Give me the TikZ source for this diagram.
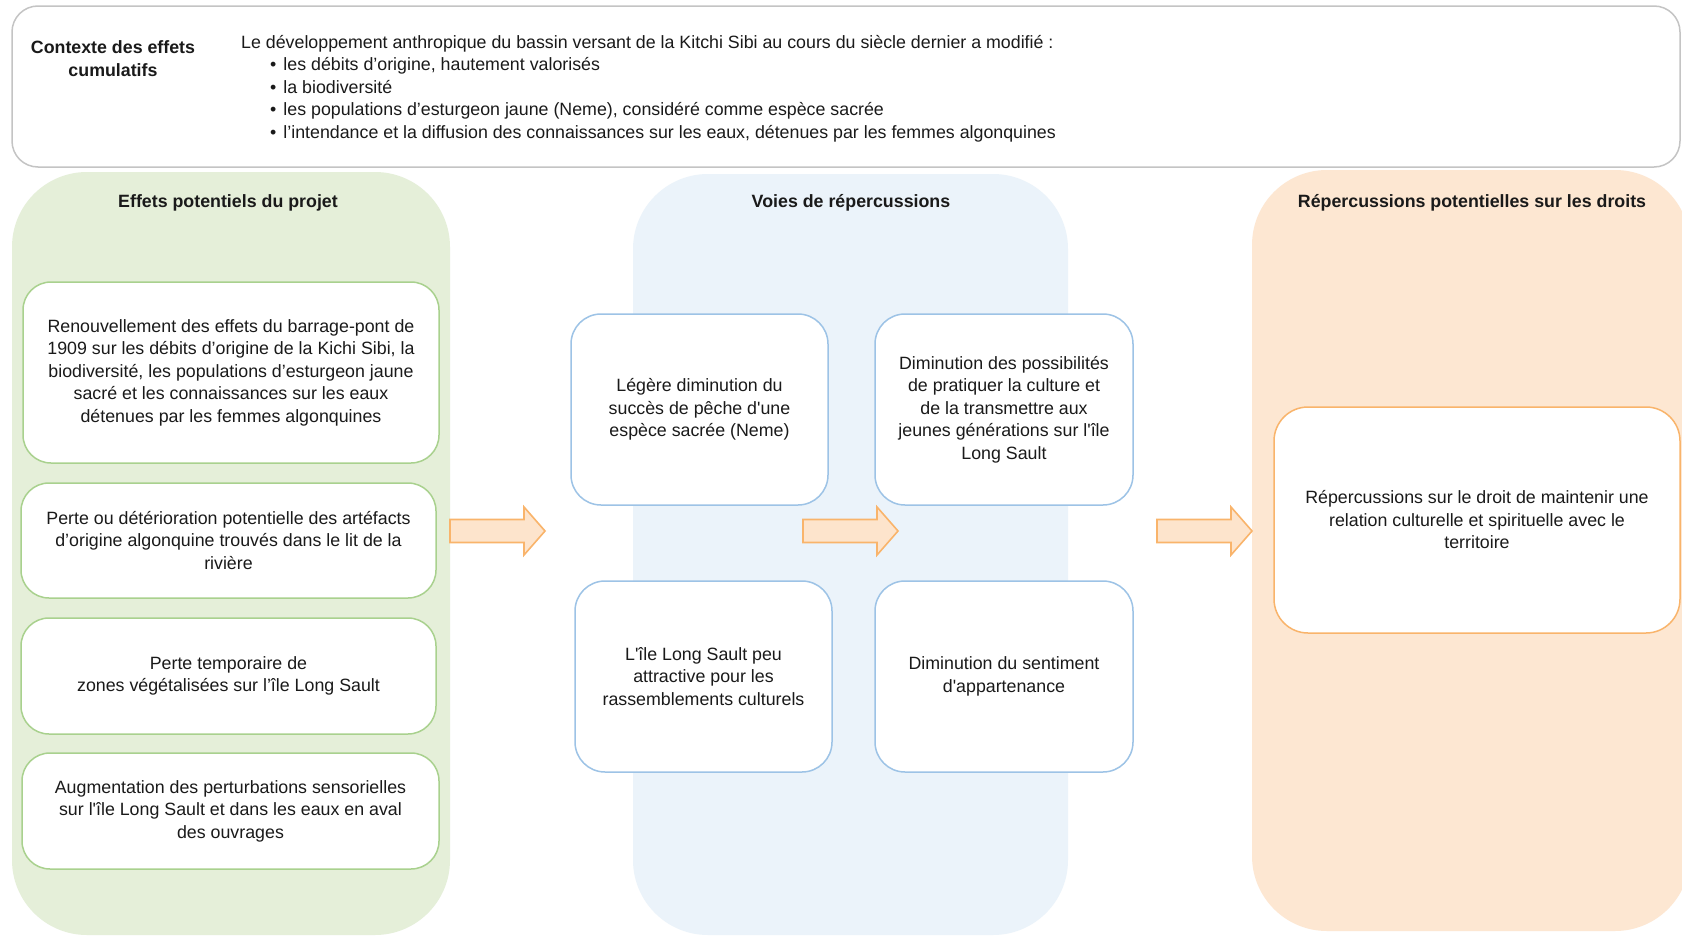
\documentclass[tikz,border=0pt]{standalone}
\usepackage{fontspec}
\setmainfont{Liberation Sans}
\definecolor{txt}{HTML}{1A1A1A}
\definecolor{greencol}{HTML}{E5EFD9}
\definecolor{greenline}{HTML}{A9D18E}
\definecolor{bluecol}{HTML}{EBF3FA}
\definecolor{blueline}{HTML}{9DC3E6}
\definecolor{orangecol}{HTML}{FDE7D2}
\definecolor{orangeline}{HTML}{F9B46B}
\definecolor{arrowfill}{HTML}{FDE4CC}
\definecolor{grayline}{HTML}{C4C4C4}
\newcommand{\sq}{\textquotesingle}
\tikzset{
  base/.style={font=\fontsize{17.8}{22.5}\selectfont, text=txt, align=center, inner sep=0pt},
  column/.style={rectangle, rounded corners=75pt, draw=none, inner sep=0pt},
  title/.style={base, font=\fontsize{17.8}{22.5}\selectfont\bfseries},
  gbox/.style={base, rectangle, rounded corners=28pt, draw=greenline, line width=1.5pt, fill=white},
  bbox/.style={base, rectangle, rounded corners=30pt, draw=blueline, line width=1.5pt, fill=white},
  obox/.style={base, rectangle, rounded corners=34pt, draw=orangeline, line width=1.5pt, fill=white},
  blockarrow/.style={draw=orangeline, fill=arrowfill, line width=1.6pt, line join=miter},
}
\begin{document}
\begin{tikzpicture}[x=1pt,y=-1pt]
\useasboundingbox (0,0) rectangle (1682,937);
\clip (0,0) rectangle (1682,937);
\fill[white] (0,0) rectangle (1682,937);

% top context box
\node[rectangle, rounded corners=26pt, draw=grayline, line width=1.5pt, minimum width=1668pt, minimum height=161pt, inner sep=0pt] (ctxbox) at (846,86.5) {};
\node[title, anchor=center] (ctxtitle) at (113,58.5) {Contexte des effets\\cumulatifs};
\node[base, align=left, anchor=west] (ctxtext) at (241,88.5) {Le développement anthropique du bassin versant de la Kitchi Sibi au cours du siècle dernier a modifié :\\
\hspace*{29pt}\textbullet\hspace{7pt}les débits d’origine, hautement valorisés\\
\hspace*{29pt}\textbullet\hspace{7pt}la biodiversité\\
\hspace*{29pt}\textbullet\hspace{7pt}les populations d’esturgeon jaune (Neme), considéré comme espèce sacrée\\
\hspace*{29pt}\textbullet\hspace{7pt}l’intendance et la diffusion des connaissances sur les eaux, détenues par les femmes algonquines};

% columns
\node[column, fill=greencol, minimum width=438pt, minimum height=763pt] (gcol) at (231,553.5) {};
\node[column, fill=bluecol, minimum width=435pt, minimum height=761pt] (bcol) at (850.5,554.5) {};
\node[column, fill=orangecol, minimum width=438pt, minimum height=761pt] (ocol) at (1471,550.5) {};

\node[title] (gtitle) at (228,203) {Effets potentiels du projet};
\node[title] (btitle) at (851,203) {Voies de répercussions};
\node[title] (otitle) at (1472,203) {Répercussions potentielles sur les droits};

% green boxes
\node[gbox, minimum width=416pt, minimum height=181pt] (g1) at (231,372.5) {Renouvellement des effets du barrage-pont de\\1909 sur les débits d’origine de la Kichi Sibi, la\\biodiversité, les populations d’esturgeon jaune\\sacré et les connaissances sur les eaux\\détenues par les femmes algonquines};
\node[gbox, minimum width=415pt, minimum height=115pt] (g2) at (228.5,540.5) {Perte ou détérioration potentielle des artéfacts\\d’origine algonquine trouvés dans le lit de la\\rivière};
\node[gbox, minimum width=415pt, minimum height=116pt] (g3) at (228.5,676) {Perte temporaire de\\zones végétalisées sur l’île Long Sault};
\node[gbox, minimum width=417pt, minimum height=116pt] (g4) at (230.5,811) {Augmentation des perturbations sensorielles\\sur l\sq île Long Sault et dans les eaux en aval\\des ouvrages};

% blue boxes
\node[bbox, minimum width=257pt, minimum height=191pt] (b1) at (699.5,409.5) {Légère diminution du\\succès de pêche d\sq une\\espèce sacrée (Neme)};
\node[bbox, minimum width=258pt, minimum height=191pt] (b2) at (1004,409.5) {Diminution des possibilités\\de pratiquer la culture et\\de la transmettre aux\\jeunes générations sur l\sq île\\Long Sault};
\node[bbox, minimum width=257pt, minimum height=191pt] (b3) at (703.5,676.5) {L\sq île Long Sault peu\\attractive pour les\\rassemblements culturels};
\node[bbox, minimum width=258pt, minimum height=191pt] (b4) at (1004,676.5) {Diminution du sentiment\\d\sq appartenance};

% orange box
\node[obox, minimum width=406pt, minimum height=226pt] (o1) at (1477,520) {Répercussions sur le droit de maintenir une\\relation culturelle et spirituelle avec le\\territoire};

% block arrows
\foreach \n/\x in {ar1/450, ar2/803, ar3/1157} {
  \coordinate (\n) at (\x,531);
  \draw[blockarrow] (\n) ++(0,-11.5) -- ++(74,0) -- ++(0,-12.5) -- ++(21,24) -- ++(-21,24) -- ++(0,-12.5) -- ++(-74,0) -- cycle;
}
\end{tikzpicture}
\end{document}
